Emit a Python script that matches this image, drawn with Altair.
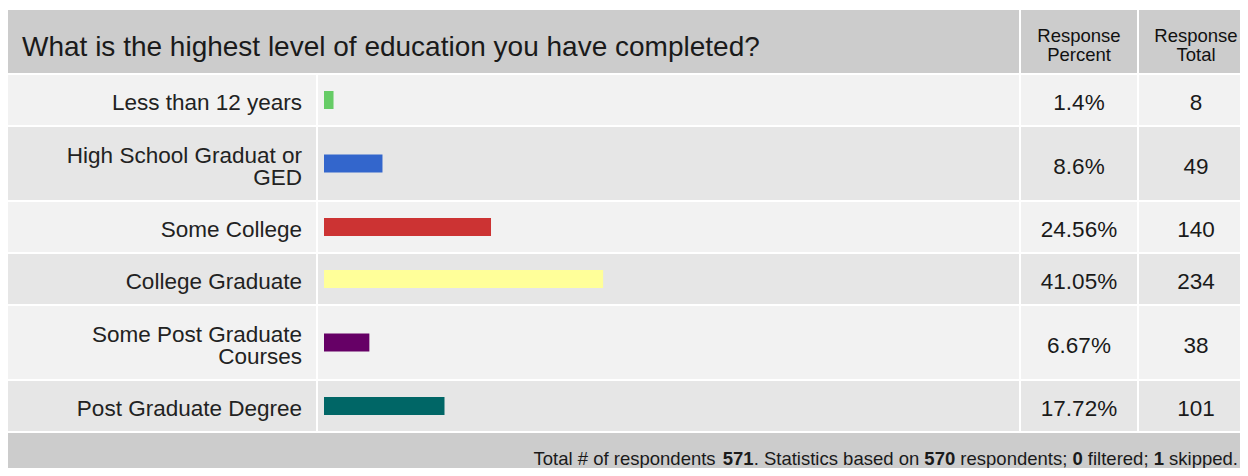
import altair as alt
import pandas as pd

# ---------------- data ----------------
title_text = "What is the highest level of education you have completed?"
categories = [
    "Less than 12 years",
    "High School Graduat or\nGED",
    "Some College",
    "College Graduate",
    "Some Post Graduate\nCourses",
    "Post Graduate Degree",
]
percent_values = [1.4, 8.6, 24.56, 41.05, 6.67, 17.72]
percent_labels = ["1.4%", "8.6%", "24.56%", "41.05%", "6.67%", "17.72%"]
totals = [8, 49, 140, 234, 38, 101]
bar_colors = ["#66cc66", "#3366cc", "#cc3333", "#ffff99", "#660066", "#006666"]
header_labels = ["Response\nPercent", "Response\nTotal"]
footer_parts = ["Total # of respondents ", "571", ". Statistics based on ", "570",
                " respondents; ", "0", " filtered; ", "1", " skipped."]
footer_bold = [False, True, False, True, False, True, False, True, False]

# ---------------- layout (pixels, chart coordinates) ----------------
W, H = 1232, 460
LABEL_COL = (0, 308)
BAR_COL = (310, 1011)
PCT_COL = (1013, 1129)
TOT_COL = (1131, W)
PCT_CX = 1071
TOT_CX = 1188
HEADER_Y = (2, 65)
ROW_TOP = 67
GAP = 2
SINGLE_H, DOUBLE_H = 50, 73
BAR_X0, PX_PER_PCT, BAR_H = 316, 6.8, 18
FONT = "Liberation Sans"
LBL_SIZE = 22.5
LBL_LH = 22

n_lines = [c.count("\n") + 1 for c in categories]
row_tops, row_bots = [], []
y = ROW_TOP
for n in n_lines:
    h = SINGLE_H if n == 1 else DOUBLE_H
    row_tops.append(y)
    row_bots.append(y + h)
    y += h + GAP
FOOTER_Y = (y, H)
centers = [(a + b) / 2 for a, b in zip(row_tops, row_bots)]

# backgrounds
bg = []
bg.append(dict(x=0, x2=BAR_COL[1], y=HEADER_Y[0], y2=HEADER_Y[1], c="#cccccc"))
bg.append(dict(x=PCT_COL[0], x2=PCT_COL[1], y=HEADER_Y[0], y2=HEADER_Y[1], c="#cccccc"))
bg.append(dict(x=TOT_COL[0], x2=TOT_COL[1], y=HEADER_Y[0], y2=HEADER_Y[1], c="#cccccc"))
for i, (t, b) in enumerate(zip(row_tops, row_bots)):
    c = "#f2f2f2" if i % 2 == 0 else "#e6e6e6"
    for col in (LABEL_COL, BAR_COL, PCT_COL, TOT_COL):
        bg.append(dict(x=col[0], x2=col[1], y=t, y2=b, c=c))
bg.append(dict(x=0, x2=W, y=FOOTER_Y[0], y2=FOOTER_Y[1], c="#cccccc"))
bg_df = pd.DataFrame(bg)

xs = alt.Scale(domain=[0, W], nice=False, zero=False)
ys = alt.Scale(domain=[0, H], nice=False, zero=False, reverse=True)

bg_layer = alt.Chart(bg_df).mark_rect().encode(
    x=alt.X("x:Q", scale=xs, axis=None),
    x2="x2:Q",
    y=alt.Y("y:Q", scale=ys, axis=None),
    y2="y2:Q",
    color=alt.Color("c:N", scale=None),
)

# bars
bar_df = pd.DataFrame({
    "cat": categories,
    "zero": [0] * len(categories),
    "pct": percent_values,
    "y": [c - BAR_H / 2 for c in centers],
    "y2": [c + BAR_H / 2 for c in centers],
    "col": bar_colors,
})
bar_layer = alt.Chart(bar_df).mark_rect().encode(
    x=alt.X("zero:Q", scale=alt.Scale(domain=[0, 100], range=[BAR_X0, BAR_X0 + PX_PER_PCT * 100], nice=False), axis=None),
    x2="pct:Q",
    y=alt.Y("y:Q", scale=ys, axis=None),
    y2="y2:Q",
    color=alt.Color("col:N", scale=None),
)

def text_layer(df, align, size, weight="normal", color="#222222"):
    return alt.Chart(df).mark_text(
        align=align, baseline="alphabetic", font=FONT, fontSize=size,
        fontWeight=weight, color=color,
    ).encode(
        x=alt.X("x:Q", scale=xs, axis=None),
        y=alt.Y("y:Q", scale=ys, axis=None),
        text="t:N",
    )

# title
title_df = pd.DataFrame([dict(x=14, y=48, t=title_text)])
title_layer = text_layer(title_df, "left", 28, color="#1a1a1a")

# column headers (one text per line)
HDR_LH = 19.5
hdr_rows = []
for cx, lab in zip((PCT_CX, TOT_CX), header_labels):
    for k, line in enumerate(lab.split("\n")):
        hdr_rows.append(dict(x=cx, y=33.5 + k * HDR_LH, t=line))
hdr_layer = text_layer(pd.DataFrame(hdr_rows), "center", 18.5, color="#111111")

# category labels (one text per line)
lbl_rows = []
for cat, c, n in zip(categories, centers, n_lines):
    first = c + 10 - (n - 1) * LBL_LH / 2
    for k, line in enumerate(cat.split("\n")):
        lbl_rows.append(dict(x=294, y=first + k * LBL_LH, t=line))
lbl_layer = text_layer(pd.DataFrame(lbl_rows), "right", LBL_SIZE, color="#222222")

# values
val_rows = []
for c, p, t in zip(centers, percent_labels, totals):
    val_rows.append(dict(x=PCT_CX, y=c + 10, t=p))
    val_rows.append(dict(x=TOT_CX, y=c + 10, t=str(t)))
val_layer = text_layer(pd.DataFrame(val_rows), "center", LBL_SIZE, color="#1a1a1a")

# footer with bold numbers
AW = {' ': 278, '#': 556, '.': 278, ';': 278, 'S': 667, 'T': 611, 'a': 556, 'b': 556,
      'c': 500, 'd': 556, 'e': 556, 'f': 278, 'i': 222, 'k': 500, 'l': 222, 'n': 556,
      'o': 556, 'p': 556, 'r': 333, 's': 500, 't': 278}
for dch in "0123456789":
    AW[dch] = 556
FOOT_SIZE = 18.5
def tw(s):
    return sum(AW.get(ch, 556) for ch in s) / 1000 * FOOT_SIZE
total_w = sum(tw(p) for p in footer_parts)
fx = 1230 - total_w
reg_rows, bold_rows = [], []
for part, b in zip(footer_parts, footer_bold):
    lead = len(part) - len(part.lstrip(" "))
    row = dict(x=fx + tw(part[:lead]), y=456.5, t=part.strip(" "))
    (bold_rows if b else reg_rows).append(row)
    fx += tw(part)
foot_reg = text_layer(pd.DataFrame(reg_rows), "left", FOOT_SIZE, color="#1a1a1a")
foot_bold = text_layer(pd.DataFrame(bold_rows), "left", FOOT_SIZE, weight="bold", color="#1a1a1a")

chart = alt.layer(
    bg_layer, bar_layer, title_layer, hdr_layer, lbl_layer, val_layer, foot_reg, foot_bold
).resolve_scale(x="independent").properties(
    width=W, height=H,
    autosize=alt.AutoSizeParams(type="none"),
    padding=0,
).configure_view(stroke=None)

chart.save("out.html", embed_options={"renderer": "svg", "actions": False})
